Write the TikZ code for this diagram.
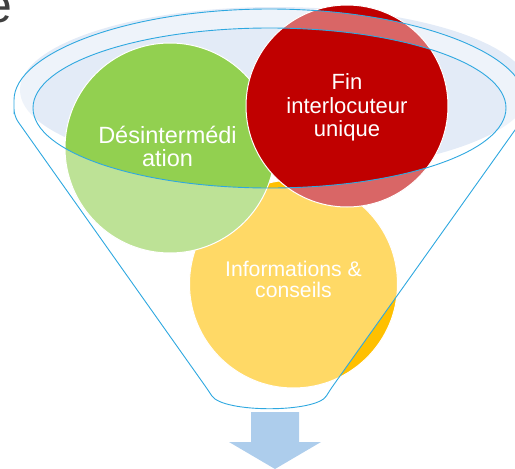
\documentclass[tikz,border=0pt]{standalone}
\usepackage{fontspec}
\setmainfont{Liberation Sans}
\definecolor{palefill}{RGB}{227,235,247}
\definecolor{funnelline}{RGB}{46,168,224}
\definecolor{greenc}{RGB}{146,208,80}
\definecolor{redc}{RGB}{192,0,0}
\definecolor{yellowc}{RGB}{255,192,0}
\definecolor{arrowc}{RGB}{173,205,236}
\definecolor{titlegray}{RGB}{64,64,64}
\begin{document}
\begin{tikzpicture}[x=1pt,y=-1pt,
  bubble/.style={circle, draw=white, line width=1pt, inner sep=0pt},
  outline/.style={draw=funnelline, line width=0.9pt},
  lbl/.style={text=white, inner sep=0pt, anchor=base},
]
\useasboundingbox (0,0) rectangle (515,469);
\clip (0,0) rectangle (515,469);
% back of the funnel mouth
\fill[palefill] (275,90) ellipse [x radius=255, y radius=83];
% bubbles
\node (yc) [bubble, fill=yellowc, minimum size=208pt] at (293.5,284) {};
\node (gc) [bubble, fill=greenc, minimum size=210pt] at (170,148) {};
\node (rc) [bubble, fill=redc, minimum size=202pt] at (347,106) {};
% translucent front of the funnel
\fill[white, fill opacity=0.4, even odd rule, rounded corners=7]
  (14,107) arc[start angle=180, end angle=360, x radius=255.5, y radius=98]
  -- (525,116) -- (330,390) .. controls (316,413) and (223,413) .. (208,390)
  -- (14,116) -- cycle
  (269.5,108) ellipse [x radius=236.5, y radius=80];
% funnel outlines
\draw[outline, rounded corners=7]
  (14,107) arc[start angle=180, end angle=360, x radius=255.5, y radius=98]
  -- (525,116) -- (330,390) .. controls (316,413) and (223,413) .. (208,390)
  -- (14,116) -- cycle;
\draw[outline] (269.5,108) ellipse [x radius=236.5, y radius=80];
% arrow
\fill[arrowc] (251,412) -- (299,412) -- (299,442) -- (321,442) -- (275,469)
  -- (229,442) -- (251,442) -- cycle;
% labels
\node (g1) [lbl, font=\fontsize{23.5}{26}\selectfont] at (167.5,143.5) {Désintermédi};
\node (g2) [lbl, font=\fontsize{23.5}{26}\selectfont] at (167.5,166.5) {ation};
\node (r1) [lbl, font=\fontsize{22}{24}\selectfont] at (347,89.3) {Fin};
\node (r2) [lbl, font=\fontsize{22}{24}\selectfont] at (347,113.3) {interlocuteur};
\node (r3) [lbl, font=\fontsize{22}{24}\selectfont] at (347,136.7) {unique};
\node (y1) [lbl, font=\fontsize{21.2}{23}\selectfont] at (293.5,276) {Informations \&};
\node (y2) [lbl, font=\fontsize{21.2}{23}\selectfont] at (293.5,297) {conseils};
% cropped title letter
\node (ttl) [anchor=base west, inner sep=0pt, text=titlegray, font=\fontsize{50}{60}\selectfont] at (-16,22) {e};
\end{tikzpicture}
\end{document}
